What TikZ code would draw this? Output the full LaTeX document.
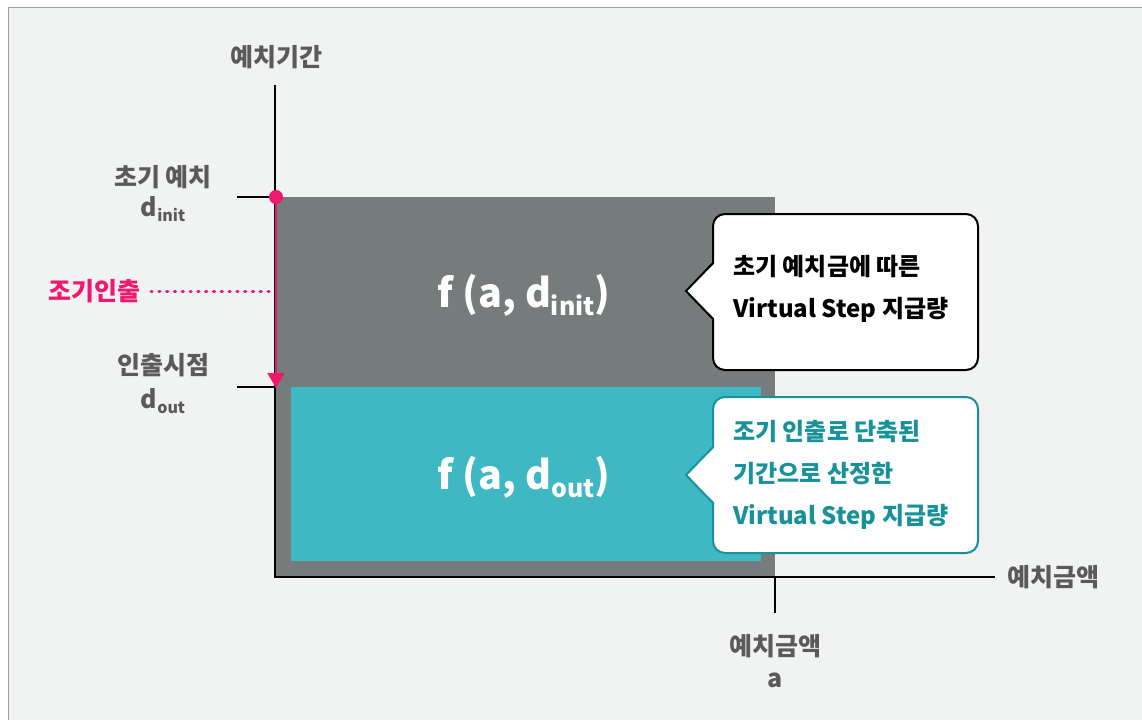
\documentclass[tikz,border=0pt]{standalone}
\usepackage{fontspec}
\setmainfont{Noto Sans CJK KR}
\usetikzlibrary{arrows.meta}
\definecolor{bgc}{HTML}{F1F2F2}
\definecolor{framec}{HTML}{9E9E9E}
\definecolor{greyrect}{HTML}{767B7B}
\definecolor{tealrect}{HTML}{3EB9C3}
\definecolor{tealdark}{HTML}{17919A}
\definecolor{pinkc}{HTML}{F2176E}
\definecolor{labelc}{HTML}{5A5A5A}
\newcommand{\lsub}[1]{\raisebox{-5pt}{\fontsize{16}{16}\selectfont #1}}
\newcommand{\bsub}[1]{\raisebox{-8pt}{\fontsize{25}{25}\selectfont #1}}
\tikzset{
  axislbl/.style={font=\fontsize{25}{28}\selectfont\bfseries, text=labelc, inner sep=0pt},
  axisline/.style={line width=2pt, black},
  formula/.style={font=\fontsize{39.5}{42}\selectfont\bfseries, text=white, inner sep=0pt},
  callouttext/.style={font=\fontsize{24}{42}\selectfont\bfseries, align=left, inner sep=0pt, anchor=west},
}
\begin{document}
\begin{tikzpicture}[x=1pt,y=-1pt]
\useasboundingbox (0,0) rectangle (1142,720);
\fill[white] (0,0) rectangle (1142,720);
\fill[bgc] (9,8) rectangle (1142,720);
\draw[framec, line width=1.5pt] (8.5,720) -- (8.5,7.5) -- (1142,7.5);

% coordinates
\coordinate (O) at (275,577);
\coordinate (ytop) at (275,85);
\coordinate (xend) at (995,577);
\coordinate (dinit) at (276,197);
\coordinate (dout) at (276,388);
\coordinate (tickinit) at (237,197);
\coordinate (tickout) at (237,387);
\coordinate (ticka) at (775,613);
\coordinate (abase) at (775,577);
\coordinate (dotstart) at (151,291);
\coordinate (dotend) at (275,291);

% rectangles
\fill[greyrect] (276,197) rectangle (775,577);
\fill[tealrect] (291,387) rectangle (761,561);

% axes and ticks
\draw[axisline] (ytop) -- (O) -- (xend);
\draw[axisline] (tickinit) -- (275,197);
\draw[axisline] (tickout) -- (275,387);
\draw[axisline] (abase) -- (ticka);

% early withdrawal arrow
\draw[pinkc, line width=2pt, -{Triangle[width=17pt,length=15pt]}] (dinit) -- (dout);
\fill[pinkc] (dinit) circle (7);
\draw[pinkc, line width=3pt, line cap=round, dash pattern=on 1.2pt off 6.6pt] (dotstart) -- (dotend);

% labels
\node[axislbl] (ylbl) at (276,57) {예치기간};
\node[axislbl] (initlbl) at (163,177) {초기 예치};
\node[axislbl, anchor=base] (dinitlbl) at (163,216) {d\lsub{init}};
\node[axislbl] (outlbl) at (163,365) {인출시점};
\node[axislbl, anchor=base] (doutlbl) at (163,408) {d\lsub{out}};
\node[axislbl, text=pinkc, anchor=east] (ewlbl) at (141,291) {조기인출};
\node[axislbl, anchor=west] (xlbl) at (1007,577) {예치금액};
\node[axislbl] (alblk) at (775,646) {예치금액};
\node[axislbl, anchor=base] (albl) at (775,687) {a};

% formulas
\node[formula, anchor=base] (f1) at (524,307) {f (a, d\bsub{init})};
\node[formula, anchor=base] (f2) at (524,489) {f (a, d\bsub{out})};

% callout 1
\draw[black, line width=2pt, fill=white, rounded corners=12pt] (713,214) rectangle (978,370);
\fill[white] (716,262) -- (686,291) -- (716,320) -- cycle;
\draw[black, line width=2pt, line join=miter] (713,263) -- (686,291) -- (713,319);
\node[callouttext, text=black] (c1) at (733,289) {초기 예치금에 따른\\Virtual Step 지급량};

% callout 2
\draw[tealdark, line width=2pt, fill=white, rounded corners=12pt] (713,397) rectangle (978,553);
\fill[white] (716,446) -- (686,475) -- (716,504) -- cycle;
\draw[tealdark, line width=2pt, line join=miter] (713,447) -- (686,475) -- (713,503);
\node[callouttext, text=tealdark] (c2) at (733,475) {조기 인출로 단축된\\기간으로 산정한\\Virtual Step 지급량};
\end{tikzpicture}
\end{document}
